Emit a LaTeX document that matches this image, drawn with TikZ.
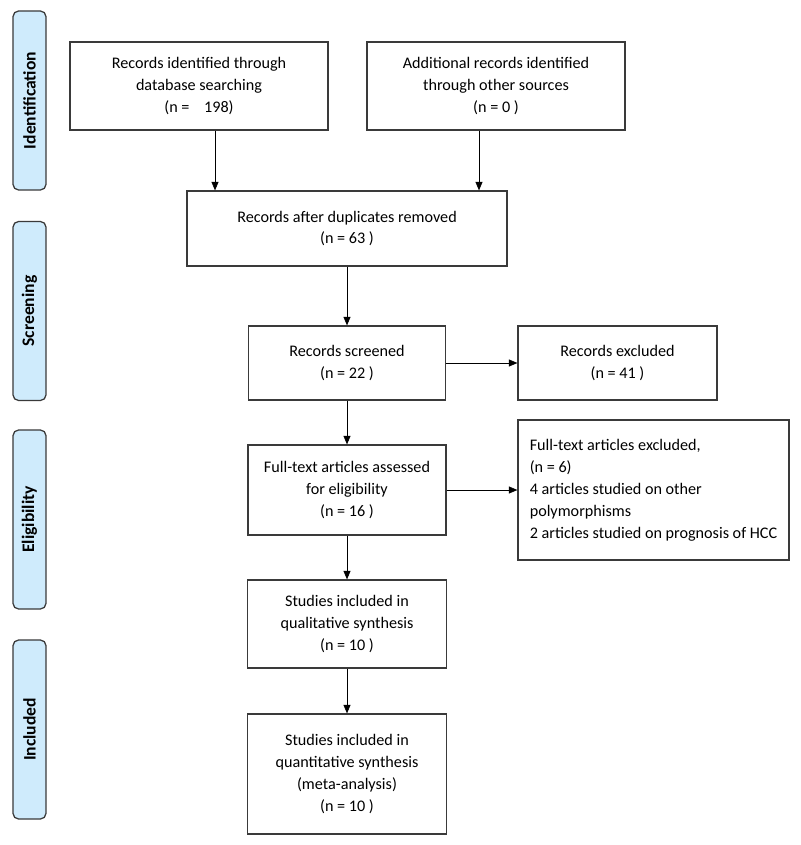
\documentclass[tikz,border=0pt]{standalone}
\usepackage{fontspec}
\setmainfont{Carlito}
\usetikzlibrary{arrows.meta}
\definecolor{sidefill}{HTML}{CFEBFC}
\definecolor{edgegray}{HTML}{3A3A3A}

\begin{document}
\begin{tikzpicture}[x=0.025cm, y=-0.025cm, >={Triangle[length=6pt,width=5pt]},
    box/.style={draw=edgegray, line width=0.9pt, align=center, inner sep=0pt,
        font=\fontsize{11.5}{15.6}\selectfont},
    stage/.style={draw=edgegray, fill=sidefill, rounded corners=4pt, line width=0.9pt,
        rotate=90, minimum width=4.475cm, minimum height=0.825cm,
        font=\fontsize{12.5}{15}\selectfont\bfseries}]
    \useasboundingbox (0,0) rectangle (800,845);

    % Stages on the left
    \node[stage] (ident) at (29.5,100.5) {Identification};
    \node[stage] (screen) at (29.5,311) {Screening};
    \node[stage] (elig) at (29.5,519.5) {Eligibility};
    \node[stage] (incl) at (29.5,729.5) {Included};

    % Identification
    \node[box, minimum width=6.45cm, minimum height=2.2cm] (dbrec) at (199,86)
        {Records identified through\\ database searching\\ (n =\ \ \ \ 198)};
    \node[box, minimum width=6.45cm, minimum height=2.2cm] (otherrec) at (496,86)
        {Additional records identified\\ through other sources\\ (n = 0 )};

    % Screening
    \node[box, minimum width=8cm, minimum height=1.875cm] (dedup) at (347,228.5)
        {Records after duplicates removed\\ (n = 63 )};
    \node[box, minimum width=4.925cm, minimum height=1.85cm] (screened) at (347,363)
        {Records screened\\ (n = 22 )};
    \node[box, minimum width=4.975cm, minimum height=1.85cm] (recexcl) at (617.5,363)
        {Records excluded\\ (n = 41 )};

    % Eligibility
    \node[box, minimum width=4.95cm, minimum height=2.25cm] (fulltext) at (347,490)
        {Full-text articles assessed\\ for eligibility\\ (n = 16 )};
    \node[box, align=left, minimum width=6.775cm, minimum height=3.5cm] (ftexcl) at (653.5,490)
        {Full-text articles excluded,\\ (n = 6)\\ 4 articles studied on other\\ polymorphisms\\ 2 articles studied on prognosis of HCC};

    % Included
    \node[box, minimum width=4.975cm, minimum height=2.2cm] (qual) at (347,624)
        {Studies included in\\ qualitative synthesis\\ (n = 10 )};
    \node[box, minimum width=4.975cm, minimum height=3cm] (quant) at (347,774)
        {Studies included in\\ quantitative synthesis\\ (meta-analysis)\\ (n = 10 )};

    % Arrows
    \draw[->] ([xshift=0.4cm]dbrec.south) -- ([xshift=0.4cm]dbrec.south |- dedup.north);
    \draw[->] ([xshift=-0.425cm]otherrec.south) -- ([xshift=-0.425cm]otherrec.south |- dedup.north);
    \draw[->] (dedup) -- (screened);
    \draw[->] (screened) -- (recexcl);
    \draw[->] (screened) -- (fulltext);
    \draw[->] (fulltext) -- (ftexcl);
    \draw[->] (fulltext) -- (qual);
    \draw[->] (qual) -- (quant);
\end{tikzpicture}
\end{document}
